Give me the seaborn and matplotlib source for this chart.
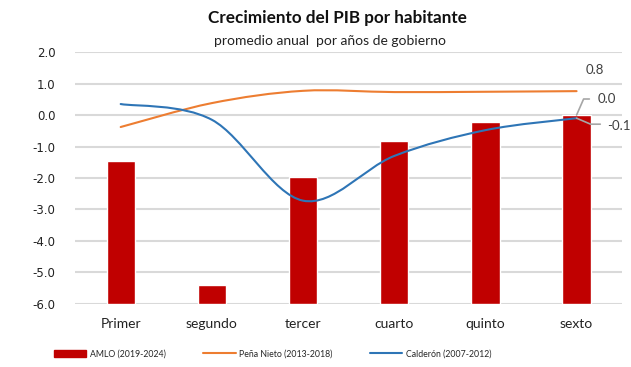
import numpy as np
import pandas as pd
import seaborn as sns
import matplotlib.pyplot as plt
from matplotlib.path import Path
from matplotlib.patches import PathPatch, Patch
from matplotlib.lines import Line2D

# Data
periodos = ['Primer', 'segundo', 'tercer', 'cuarto', 'quinto', 'sexto']
amlo = [-1.46, -5.39, -1.97, -0.82, -0.21, 0.0]
pena_nieto = [-0.38, 0.38, 0.77, 0.73, 0.74, 0.76]
calderon = [0.35, -0.15, -2.72, -1.3, -0.48, -0.1]
y_ticks = [2.0, 1.0, 0.0, -1.0, -2.0, -3.0, -4.0, -5.0, -6.0]

ROJO = '#c00000'
NARANJA = '#ed7d31'
AZUL = '#2e75b6'
BASE = -6.0  # the category axis crosses at -6, bars grow up from there

sns.set_style('white')
plt.rcParams['font.family'] = ['Lato', 'DejaVu Sans']

fig = plt.figure(figsize=(6.31, 3.67), dpi=100)
ax = fig.add_axes([0.119, 0.172, 0.867, 0.686])

df = pd.DataFrame({'periodo': periodos, 'amlo': amlo})
sns.barplot(data=df, x='periodo', y='amlo', color=ROJO, width=0.31,
            saturation=1, ax=ax, zorder=2)
# move bar bases down to the axis floor
for bar in ax.patches:
    valor = bar.get_y() + bar.get_height()
    bar.set_y(BASE)
    bar.set_height(valor - BASE)


def curva_suave(ax, valores, color):
    # smooth line through the points (cubic Bezier, Catmull-Rom style)
    xs = np.arange(len(valores), dtype=float)
    ys = np.array(valores, dtype=float)
    pts = np.column_stack([xs, ys])
    verts = [pts[0]]
    codes = [Path.MOVETO]
    n = len(pts)
    for i in range(n - 1):
        p0 = pts[max(i - 1, 0)]
        p1 = pts[i]
        p2 = pts[i + 1]
        p3 = pts[min(i + 2, n - 1)]
        c1 = p1 + (p2 - p0) / 6
        c2 = p2 - (p3 - p1) / 6
        verts += [c1, c2, p2]
        codes += [Path.CURVE4] * 3
    ax.add_patch(PathPatch(Path(verts, codes), fill=False, edgecolor=color,
                           lw=1.5, zorder=3, capstyle='round'))


curva_suave(ax, pena_nieto, NARANJA)
curva_suave(ax, calderon, AZUL)

ax.set_xlim(-0.5, 5.5)
ax.set_ylim(-6, 2)
ax.set_yticks(y_ticks)
ax.set_yticklabels([f'{v:.1f}' for v in y_ticks], family='DejaVu Sans',
                   fontsize=8.5, color='#222222')
ax.tick_params(axis='x', labelsize=10, colors='#222222', pad=10, length=0)
ax.tick_params(axis='y', pad=14, length=0)
ax.set_xlabel('')
ax.set_ylabel('')
ax.grid(axis='y', color='#d9d9d9', lw=1.5, zorder=0)
ax.set_axisbelow(True)
sns.despine(ax=ax, left=True, bottom=True, top=True, right=True)

# data labels on the last year
ax.text(5.2, 1.43, f'{pena_nieto[-1]:.1f}', ha='center', va='center',
        fontsize=9.5, color='#404040')
ax.plot([5, 5.077, 5.14], [amlo[-1], 0.51, 0.51], color='#a6a6a6', lw=1.2,
        zorder=4)
ax.text(5.23, 0.5, f'{amlo[-1]:.1f}', ha='left', va='center',
        fontsize=9.5, color='#404040')
ax.plot([5, 5.154, 5.26], [calderon[-1], -0.29, -0.29], color='#a6a6a6',
        lw=1.2, zorder=4)
ax.text(5.34, -0.35, f'{calderon[-1]:.1f}', ha='left', va='center',
        fontsize=9.5, color='#404040', clip_on=False)

fig.text(0.534, 0.95, 'Crecimiento del PIB por habitante', ha='center',
         va='center', fontsize=12.3, fontweight='bold', color='#111111')
fig.text(0.523, 0.889, 'promedio anual  por años de gobierno', ha='center',
         va='center', fontsize=10, color='#222222')

handles = [Patch(color=ROJO), Line2D([], [], color=NARANJA, lw=1.5),
           Line2D([], [], color=AZUL, lw=1.5)]
labels = ['AMLO (2019-2024)', 'Peña Nieto (2013-2018)', 'Calderón (2007-2012)']
fig.legend(handles, labels, loc='center', bbox_to_anchor=(0.432, 0.035),
           ncol=3, frameon=False, fontsize=6.3, handlelength=3.7,
           handleheight=0.9, columnspacing=4.3, handletextpad=0.4)

fig.savefig('out.png', dpi=100)
